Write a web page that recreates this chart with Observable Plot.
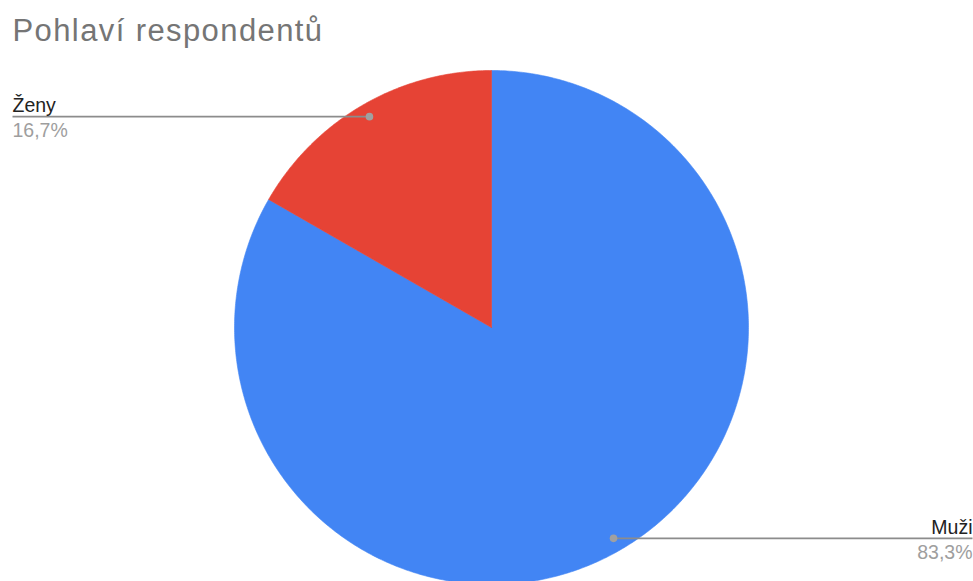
<!DOCTYPE html>
<html>
<head>
<meta charset="utf-8">
<script src="https://cdn.jsdelivr.net/npm/d3@7"></script>
<script src="https://cdn.jsdelivr.net/npm/@observablehq/plot@0.6"></script>
<style>
  html, body { margin: 0; padding: 0; background: #fff; }
  #chart svg { display: block; }
</style>
</head>
<body>
<div id="chart"></div>
<script>
// ---- data ----
const title = "Pohlaví respondentů";
const categories = ["Muži", "Ženy"];
const values = [83.3, 16.7];
const valueLabels = ["83,3%", "16,7%"];
const colors = ["#4285F4", "#E64335"];

// ---- layout ----
const W = 973, H = 581;
const cx = 491, cy = 327, R = 257; // pixel centre & radius
const xDomain = [-cx / R, (W - cx) / R];
const yDomain = [-(H - cy) / R, cy / R];
const px2x = p => (p - cx) / R;

// slice polygons (angles clockwise from 12 o'clock)
const total = d3.sum(values);
const slices = [];
const anchors = [];
let a0 = 0;
categories.forEach((c, i) => {
  const a1 = a0 + values[i] / total * 2 * Math.PI;
  slices.push({cat: c, x: 0, y: 0});
  const n = Math.max(2, Math.ceil((a1 - a0) / (Math.PI / 360)));
  for (let k = 0; k <= n; k++) {
    const a = a0 + (a1 - a0) * k / n;
    slices.push({cat: c, x: Math.sin(a), y: Math.cos(a)});
  }
  slices.push({cat: c, x: 0, y: 0});
  const am = (a0 + a1) / 2;
  const rr = 0.948;
  const ax = rr * Math.sin(am), ay = rr * Math.cos(am);
  const left = ax < 0;
  anchors.push({
    cat: c, label: valueLabels[i], ax, ay, left,
    ex: left ? px2x(12) : px2x(972)
  });
  a0 = a1;
});
const leftA = anchors.filter(d => d.left);
const rightA = anchors.filter(d => !d.left);

const font = "Arial, 'Liberation Sans', sans-serif";

const labelMarks = (data, anchor) => [
  Plot.text(data, {x: "ex", y: "ay", text: "cat", textAnchor: anchor,
    lineAnchor: "middle", dy: -10.5, fontSize: 19.5, fill: "#222"}),
  Plot.text(data, {x: "ex", y: "ay", text: "label", textAnchor: anchor,
    lineAnchor: "middle", dy: 14, fontSize: 19.5, fill: "#9e9e9e"})
];

const chart = Plot.plot({
  width: W,
  height: H,
  margin: 0,
  x: {axis: null, domain: xDomain},
  y: {axis: null, domain: yDomain},
  color: {domain: categories, range: colors},
  style: {fontFamily: font, background: "#fff"},
  marks: [
    Plot.line(slices, {x: "x", y: "y", z: "cat", fill: "cat", stroke: "cat", strokeWidth: 0.6, curve: "linear"}),
    Plot.link(anchors, {x1: "ax", y1: "ay", x2: "ex", y2: "ay", stroke: "#8c8c8c", strokeWidth: 1.6}),
    Plot.dot(anchors, {x: "ax", y: "ay", r: 3.8, fill: "#a0a0a0"}),
    ...labelMarks(leftA, "start"),
    ...labelMarks(rightA, "end"),
    Plot.text([title], {frameAnchor: "top-left", text: d => d, dx: 12, dy: 18, lineAnchor: "top",
      fontSize: 31, fill: "#757575"})
  ]
});
d3.select(chart).selectAll("text").filter(function() { return this.textContent === title; })
  .style("letter-spacing", "1.4px");
document.getElementById("chart").appendChild(chart);
</script>
</body>
</html>
